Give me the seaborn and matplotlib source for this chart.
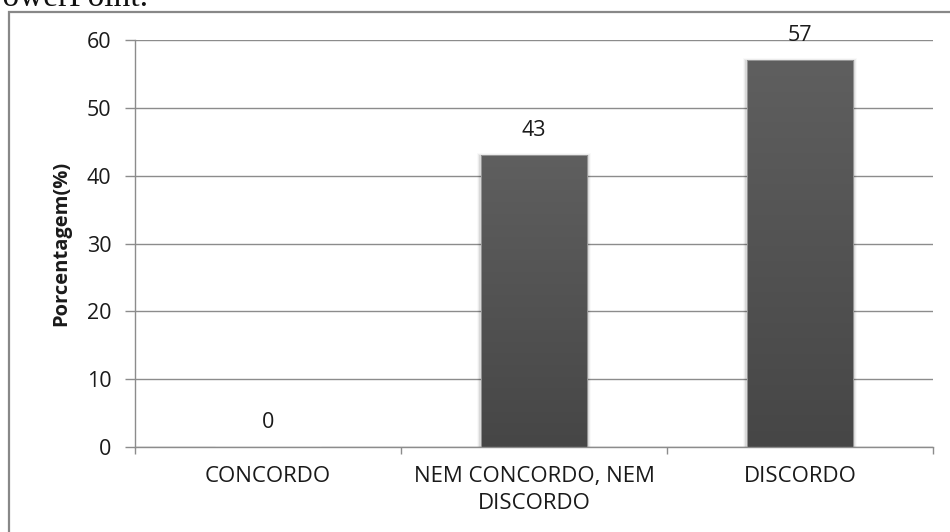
import matplotlib
matplotlib.use("Agg")
import matplotlib.pyplot as plt
import seaborn as sns
import numpy as np
from matplotlib.colors import LinearSegmentedColormap
from matplotlib.patches import Rectangle

# Data
categorias = ["CONCORDO", "NEM CONCORDO, NEM\nDISCORDO", "DISCORDO"]
porcentagem = [0, 43, 57]
yticks = [0, 10, 20, 30, 40, 50, 60]

sns.set_theme(style="white")
plt.rcParams["font.family"] = ["Open Sans", "DejaVu Sans"]

W, H = 950, 532
fig = plt.figure(figsize=(W / 100, H / 100), dpi=100)
ax = fig.add_axes([135 / W, 85 / H, 798 / W, 407 / H])

sns.barplot(x=categorias, y=porcentagem, color="#555555", width=0.4,
            saturation=1, ax=ax)

ax.set_xlim(-0.5, 2.5)
ax.set_ylim(0, 60)
ax.set_yticks(yticks)
ax.set_xlabel("")

grid_c = "#8c8c8c"
txt_c = "#1a1a1a"
ax.yaxis.grid(True, color=grid_c, lw=1.0)
ax.set_axisbelow(True)
for s in ["top", "right"]:
    ax.spines[s].set_visible(False)
for s in ["left", "bottom"]:
    ax.spines[s].set_color(grid_c)
    ax.spines[s].set_linewidth(1.0)

ax.tick_params(axis="y", left=True, direction="out", length=7, width=1,
               color=grid_c, labelsize=15.5, labelcolor=txt_c, pad=10)
ax.tick_params(axis="x", which="major", bottom=False, length=0,
               labelsize=16, labelcolor=txt_c, pad=14)
ax.set_xticks([-0.5, 0.5, 1.5, 2.5], minor=True)
ax.tick_params(axis="x", which="minor", bottom=True, direction="out",
               length=5, width=1, color=grid_c)
for lbl in ax.get_xticklabels():
    lbl.set_linespacing(1.36)

ax.set_ylabel("Porcentagem(%)", fontsize=14.5, fontweight="bold",
              color=txt_c, va="center")
ax.yaxis.set_label_coords((61 - 135) / 798, 0.5)

# Vertical gradient fill for the bars
cmap = LinearSegmentedColormap.from_list("barra", ["#464646", "#5f5f5f"])
grad = np.linspace(0, 1, 256).reshape(-1, 1)
for p in list(ax.patches):
    x, y = p.get_x(), p.get_y()
    w, h = p.get_width(), p.get_height()
    if h <= 0:
        continue
    # soft shadow
    for k, a in enumerate([0.08, 0.05, 0.025]):
        d = 0.005 * (k + 1)
        ax.add_patch(Rectangle((x - d, y), w + 2 * d, h + d * 20,
                               facecolor="#000000", alpha=a, lw=0,
                               zorder=p.get_zorder() - 0.2))
    ax.imshow(grad, extent=[x, x + w, y, y + h], origin="lower", cmap=cmap,
              aspect="auto", zorder=p.get_zorder() + 0.1, interpolation="bilinear")
    p.set_facecolor("none")
    p.set_edgecolor("#a0a0a0")
    p.set_linewidth(0.6)
    p.set_zorder(p.get_zorder() + 0.2)

ax.set_xlim(-0.5, 2.5)
ax.set_ylim(0, 60)

# Value labels
for i, v in enumerate(porcentagem):
    ax.annotate(f"{v}", (i, v), xytext=(0, 18), textcoords="offset points",
                ha="center", va="center", fontsize=15.5, color=txt_c)

# Frame around the chart
fig.patches.append(Rectangle((9 / W, -0.05), (960 - 9) / W, 1.05 - 12 / H,
                             transform=fig.transFigure, fill=False,
                             edgecolor="#888888", lw=1.6))

fig.text(148 / W, 1 - 6 / H, "PowerPoint.", family="Liberation Serif",
         fontsize=24, ha="right", va="baseline", color="#111111")

fig.savefig("out.png", dpi=100)
